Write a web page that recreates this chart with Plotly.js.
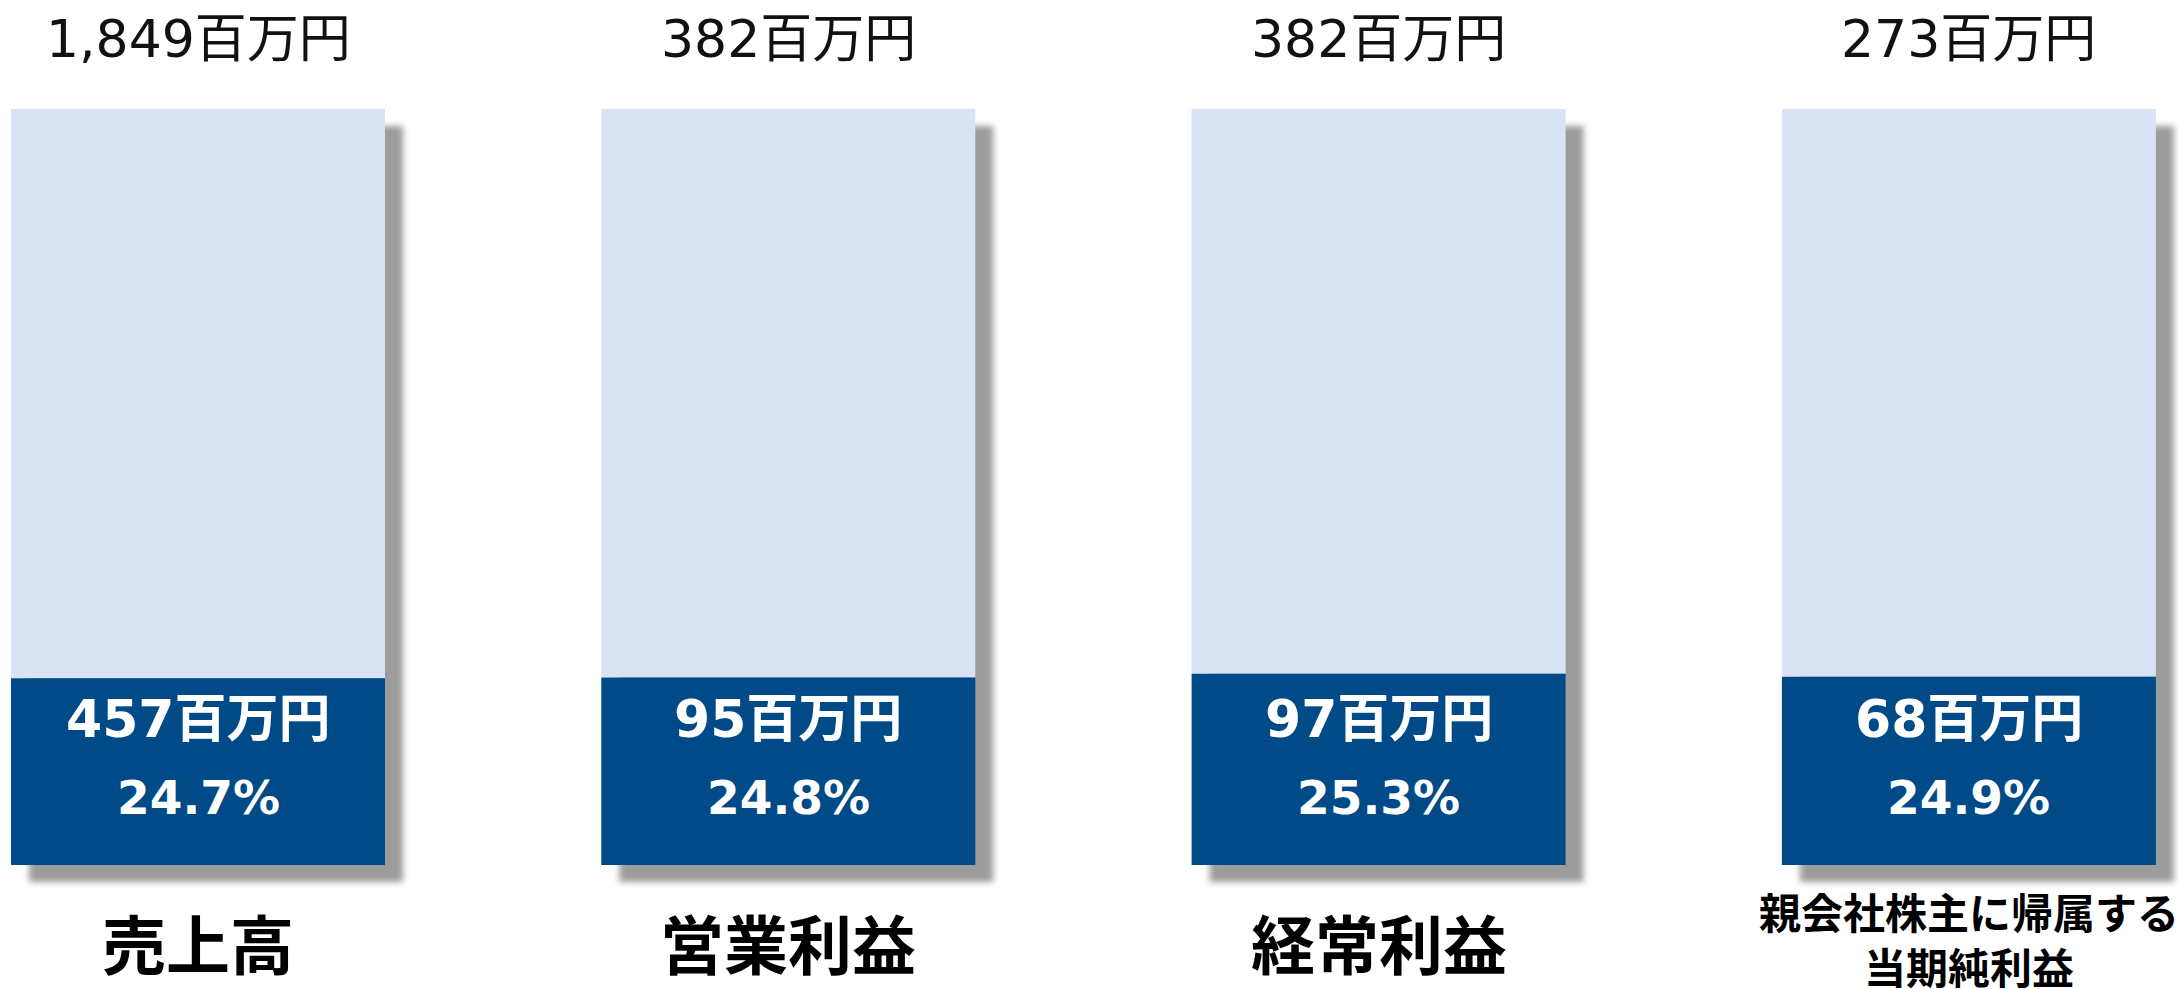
<!DOCTYPE html>
<html>
<head>
<meta charset="utf-8">
<script src="https://cdn.plot.ly/plotly-3.0.1.min.js"></script>
<style>
  html, body { margin: 0; padding: 0; background: #fff; }
  #chart { width: 2183px; height: 989px; }
</style>
</head>
<body>
<div id="chart"></div>
<script>
'use strict';

const categories = ['売上高', '営業利益', '経常利益', '親会社株主に帰属する<br>当期純利益'];
const totals = [1849, 382, 382, 273];      // 百万円
const parts = [457, 95, 97, 68];           // 百万円
const ratios = [24.7, 24.8, 25.3, 24.9];   // %

const W = 2183, H = 989;
const barPitch = 590.3;      // px between bar centres
const firstCenter = 198;     // px
const barWidth = 374 / barPitch;
const baseY = 865;           // px of value 0
const pxPerUnit = 756 / 100; // bar full height = 100%

const xs = categories.map((c, i) => i);
const yData = px => (baseY - px) / pxPerUnit;

const shadowDx = 18 / barPitch;
const shadowDy = 17 / pxPerUnit;

const shadowTrace = {
    type: 'bar',
    x: xs,
    y: xs.map(() => 100),
    base: xs.map(() => -shadowDy),
    width: barWidth,
    offset: -barWidth / 2 + shadowDx,
    marker: { color: '#9c9c9c', line: { width: 0 } },
    hoverinfo: 'skip'
};

const lightTrace = {
    type: 'bar',
    x: xs,
    y: ratios.map(r => 100 - r),
    base: ratios,
    width: barWidth,
    offset: -barWidth / 2,
    marker: { color: '#dae3f3', line: { width: 0 } },
    hoverinfo: 'skip'
};

const darkTrace = {
    type: 'bar',
    x: xs,
    y: ratios,
    base: xs.map(() => 0),
    width: barWidth,
    offset: -barWidth / 2,
    marker: { color: '#004b87', line: { width: 0 } },
    hoverinfo: 'skip'
};

const latinFirst = 'DejaVu Sans, Noto Sans CJK JP, sans-serif';
const cjk = 'Noto Sans CJK JP, sans-serif';

const annotations = [];
xs.forEach(i => {
    annotations.push({
        x: i, y: yData(39), xref: 'x', yref: 'y', showarrow: false,
        text: totals[i].toLocaleString('en-US') + '百万円',
        font: { family: latinFirst, size: 52, color: '#111' }
    });
    annotations.push({
        x: i, y: yData(719), xref: 'x', yref: 'y', showarrow: false,
        text: parts[i] + '百万円',
        font: { family: latinFirst, size: 52, color: '#fff', weight: 'bold' }
    });
    annotations.push({
        x: i, y: yData(797), xref: 'x', yref: 'y', showarrow: false,
        text: ratios[i].toFixed(1) + '%',
        font: { family: latinFirst, size: 47, color: '#fff', weight: 'bold' }
    });
    const long = categories[i].includes('<br>');
    annotations.push({
        x: i, y: yData(long ? 938 : 941), xref: 'x', yref: 'y', showarrow: false,
        text: categories[i],
        font: { family: cjk, size: long ? 42 : 64, color: '#000', weight: 'bold' }
    });
});

const layout = {
    width: W,
    height: H,
    margin: { l: 0, r: 0, t: 0, b: 0 },
    barmode: 'overlay',
    showlegend: false,
    hovermode: false,
    paper_bgcolor: '#fff',
    plot_bgcolor: '#fff',
    xaxis: {
        range: [-firstCenter / barPitch, (W - firstCenter) / barPitch],
        visible: false, fixedrange: true
    },
    yaxis: {
        range: [yData(H), yData(0)],
        visible: false, fixedrange: true
    },
    annotations: annotations
};

Plotly.newPlot('chart', [shadowTrace, lightTrace, darkTrace], layout, { staticPlot: true })
    .then(gd => {
        const tr = gd.querySelectorAll('.barlayer .trace');
        if (tr.length) tr[0].style.filter = 'blur(3px)';
    });
</script>
</body>
</html>
